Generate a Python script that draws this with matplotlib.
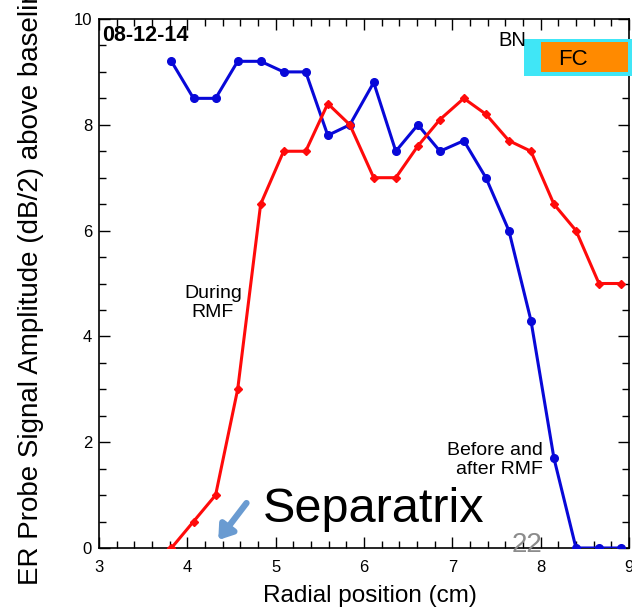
import matplotlib
matplotlib.use("Agg")
import matplotlib.pyplot as plt
from matplotlib.patches import Rectangle
from matplotlib.ticker import MultipleLocator

plt.rcParams['font.family'] = ['Liberation Sans', 'DejaVu Sans']

# Data
x_before = [3.82, 4.07, 4.32, 4.57, 4.83, 5.09, 5.34, 5.59, 5.84, 6.11, 6.36,
            6.61, 6.86, 7.13, 7.38, 7.64, 7.89, 8.15, 8.40, 8.66, 8.91]
y_before = [9.2, 8.5, 8.5, 9.2, 9.2, 9.0, 9.0, 7.8, 8.0, 8.8, 7.5,
            8.0, 7.5, 7.7, 7.0, 6.0, 4.3, 1.7, 0.0, 0.0, 0.0]

x_during = [3.82, 4.07, 4.32, 4.57, 4.83, 5.09, 5.34, 5.59, 5.84, 6.11, 6.36,
            6.61, 6.86, 7.13, 7.38, 7.64, 7.89, 8.15, 8.40, 8.66, 8.91]
y_during = [0.0, 0.5, 1.0, 3.0, 6.5, 7.5, 7.5, 8.4, 8.0, 7.0, 7.0,
            7.6, 8.1, 8.5, 8.2, 7.7, 7.5, 6.5, 6.0, 5.0, 5.0]

x_ticks = [3, 4, 5, 6, 7, 8, 9]
y_ticks = [0, 2, 4, 6, 8, 10]

W, H = 632, 609
fig = plt.figure(figsize=(W / 100, H / 100), dpi=100)
ax = fig.add_axes([99 / W, (H - 548) / H, 530 / W, 529 / H])

ax.plot(x_before, y_before, color='#0808d8', lw=2.2, marker='o', ms=5.5,
        zorder=3)
ax.plot(x_during, y_during, color='#ff0a0a', lw=2.2, marker='D', ms=4.2,
        zorder=3)

ax.set_xlim(3, 9)
ax.set_ylim(0, 10)
ax.set_xticks(x_ticks)
ax.set_yticks(y_ticks)
ax.xaxis.set_minor_locator(MultipleLocator(0.2))
ax.yaxis.set_minor_locator(MultipleLocator(0.5))
ax.tick_params(which='both', direction='in', top=True, right=True,
               width=1.0, color='black')
ax.tick_params(which='major', length=8)
ax.tick_params(which='minor', length=5)
ax.tick_params(axis='x', which='major', labelsize=12, pad=9)
ax.tick_params(axis='y', which='major', labelsize=12, pad=5)
for s in ax.spines.values():
    s.set_linewidth(1.2)

# Date stamp
ax.text(3.03, 9.89, '08-12-14', fontsize=15.5, fontweight='bold',
        ha='left', va='top')

# BN / FC boxes
ax.add_patch(Rectangle((7.81, 8.92), 9.04 - 7.81, 9.62 - 8.92,
                       facecolor='#40e6f6', edgecolor='none', zorder=5,
                       clip_on=False))
ax.add_patch(Rectangle((8.0, 9.0), 8.99 - 8.0, 9.57 - 9.0,
                       facecolor='#ff8a00', edgecolor='none', zorder=6,
                       clip_on=False))
ax.text(7.52, 9.49, 'BN', fontsize=14.5, ha='left', va='baseline', zorder=7)
ax.text(8.37, 9.24, 'FC', fontsize=16, ha='center', va='center', zorder=7)

# Annotations
ax.text(4.29, 4.63, 'During\nRMF', fontsize=14, ha='center', va='center',
        linespacing=1.2)
ax.text(8.03, 1.66, 'Before and\nafter RMF', fontsize=14, ha='right',
        va='center', linespacing=1.2)
ax.text(4.86, 0.49, 'Separatrix', fontsize=35, ha='left', va='baseline')
ax.text(7.84, 0.06, '22', fontsize=20, color='#8c8c8c', ha='center',
        va='center')
ax.annotate('', xy=(4.35, 0.15), xytext=(4.67, 0.85),
            arrowprops=dict(arrowstyle='-|>,head_length=0.8,head_width=0.55',
                            lw=4.5, color='#6a9bd1', shrinkA=0, shrinkB=0))

# Axis labels (placed as in the reference)
fig.text(370 / W, (H - 602) / H, 'Radial position (cm)', fontsize=17.5,
         ha='center', va='baseline')
fig.text(31 / W, (H - 585) / H, 'ER Probe Signal Amplitude (dB/2) above baseline',
         fontsize=20, rotation=90, ha='center', va='bottom')

fig.savefig('out.png', dpi=100)
